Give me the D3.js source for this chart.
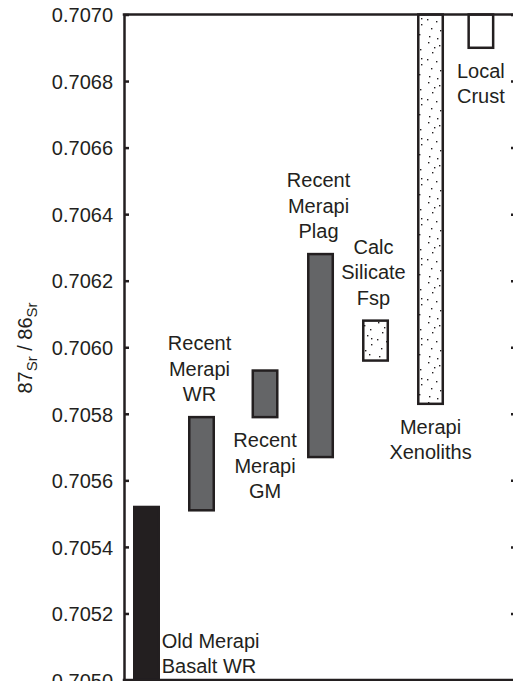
<!DOCTYPE html>
<html>
<head>
<meta charset="utf-8">
<script src="https://cdn.jsdelivr.net/npm/d3@7"></script>
<style>
body { margin: 0; background: #fff; }
text { font-family: "Liberation Sans", Arial, Helvetica, sans-serif; fill: #231f20; }
</style>
</head>
<body>
<svg id="chart" width="513" height="681"></svg>
<script>
'use strict';
// data
const groups = ["Old Merapi Basalt WR", "Recent Merapi WR", "Recent Merapi GM", "Recent Merapi Plag",
    "Calc Silicate Fsp", "Merapi Xenoliths", "Local Crust"];
const lowValues = [0.7050, 0.70551, 0.70579, 0.70567, 0.70596, 0.70583, 0.70690];
const highValues = [0.70552, 0.70579, 0.70593, 0.70628, 0.70608, 0.7070, 0.7070];
const fillTypes = ["black", "grey", "grey", "grey", "dots", "dots", "open"];
const labelLines = [["Old Merapi", "Basalt WR"], ["Recent", "Merapi", "WR"], ["Recent", "Merapi", "GM"],
    ["Recent", "Merapi", "Plag"], ["Calc", "Silicate", "Fsp"], ["Merapi", "Xenoliths"], ["Local", "Crust"]];
const labelSide = ["right", "above", "below", "above", "above", "below", "below"];
const yTicks = [0.7050, 0.7052, 0.7054, 0.7056, 0.7058, 0.7060, 0.7062, 0.7064, 0.7066, 0.7068, 0.7070];

// slot of each group along the x axis (columns are not evenly spaced in the figure)
const slots = [0, 1, 2.155, 3.164, 4.164, 5.164, 6.08];

let svg = d3.select("#chart");
let ink = "#231f20";
let left = 124, right = 516;

let y = d3.scaleLinear().domain([0.7050, 0.7070]).range([680, 14.5]);
let x = d3.scaleLinear().domain([0, 6]).range([146.5, 476.5]);

// dot texture for the xenolith-like boxes
let dotPts = [[3, 2], [14, 5], [20, 9], [7, 12], [17, 15], [2, 19], [11, 21], [21, 24], [6, 28],
    [15, 30], [19, 34], [4, 36], [12, 38], [9, 7], [21, 18]];
let pat = svg.append("defs").append("pattern")
    .attr("id", "dots")
    .attr("patternUnits", "userSpaceOnUse")
    .attr("width", 25).attr("height", 40);
pat.append("rect").attr("width", 25).attr("height", 40).attr("fill", "#fff");
pat.selectAll("rect.d")
    .data(dotPts)
    .enter().append("rect")
    .attr("class", "d")
    .attr("x", d => d[0]).attr("y", d => d[1])
    .attr("width", 1.4).attr("height", 1.4)
    .attr("fill", ink);

let fills = {black: ink, grey: "#646567", dots: "url(#dots)", open: "#fff"};

// bars
let barW = 24.5;
svg.selectAll("rect.bar")
    .data(groups)
    .enter().append("rect")
    .attr("class", "bar")
    .attr("x", (d, i) => x(slots[i]) - barW / 2)
    .attr("width", barW)
    .attr("y", (d, i) => y(highValues[i]))
    .attr("height", (d, i) => y(lowValues[i]) - y(highValues[i]))
    .attr("fill", (d, i) => fills[fillTypes[i]])
    .attr("stroke", ink)
    .attr("stroke-width", 2.5);

// frame: left axis, right axis, top and bottom lines
let yAxis = svg.append("g")
    .attr("transform", "translate(" + left + ",0)")
    .call(d3.axisLeft(y).tickValues(yTicks).tickFormat(d3.format(".4f"))
        .tickSize(-5).tickSizeOuter(0).tickPadding(11));
yAxis.selectAll("text").style("font-size", "20px").attr("dy", "0.36em");

let yAxisR = svg.append("g")
    .attr("transform", "translate(" + right + ",0)")
    .call(d3.axisRight(y).tickValues(yTicks).tickFormat("").tickSize(-5).tickSizeOuter(0));

svg.selectAll(".domain").attr("stroke", ink).attr("stroke-width", 2.5);
svg.selectAll(".tick line").attr("stroke", ink).attr("stroke-width", 2.5);

svg.append("line")
    .attr("x1", left - 1.25).attr("x2", right)
    .attr("y1", y(0.7070)).attr("y2", y(0.7070))
    .attr("stroke", ink).attr("stroke-width", 2.5);
svg.append("line")
    .attr("x1", left - 1.25).attr("x2", right)
    .attr("y1", y(0.7050)).attr("y2", y(0.7050))
    .attr("stroke", ink).attr("stroke-width", 2.5);

// labels
let lineH = 25.5;
groups.forEach((g, i) => {
    let lines = labelLines[i];
    let cx = x(slots[i]);
    let side = labelSide[i];
    let t = svg.append("text").style("font-size", "20px");
    let x0, y0, anchor = "middle";
    if (side === "right") {
        x0 = cx + barW / 2 + 3;
        anchor = "start";
        y0 = y(0.7050) - 7 - (lines.length - 1) * lineH;
    } else if (side === "above") {
        x0 = cx - 2;
        y0 = y(highValues[i]) - 16 - (lines.length - 1) * lineH;
    } else {
        x0 = cx;
        y0 = y(lowValues[i]) + 30;
    }
    t.attr("text-anchor", anchor);
    lines.forEach((s, k) => {
        t.append("tspan").attr("x", x0).attr("y", y0 + k * lineH).text(s);
    });
});

// y-axis title
let title = svg.append("text")
    .attr("transform", "translate(32,348) rotate(-90)")
    .attr("text-anchor", "middle")
    .style("font-size", "20px");
title.append("tspan").text("87");
title.append("tspan").attr("dy", 5).style("font-size", "15px").text("Sr");
title.append("tspan").attr("dy", -5).text(" / 86");
title.append("tspan").attr("dy", 5).style("font-size", "15px").text("Sr");
</script>
</body>
</html>
